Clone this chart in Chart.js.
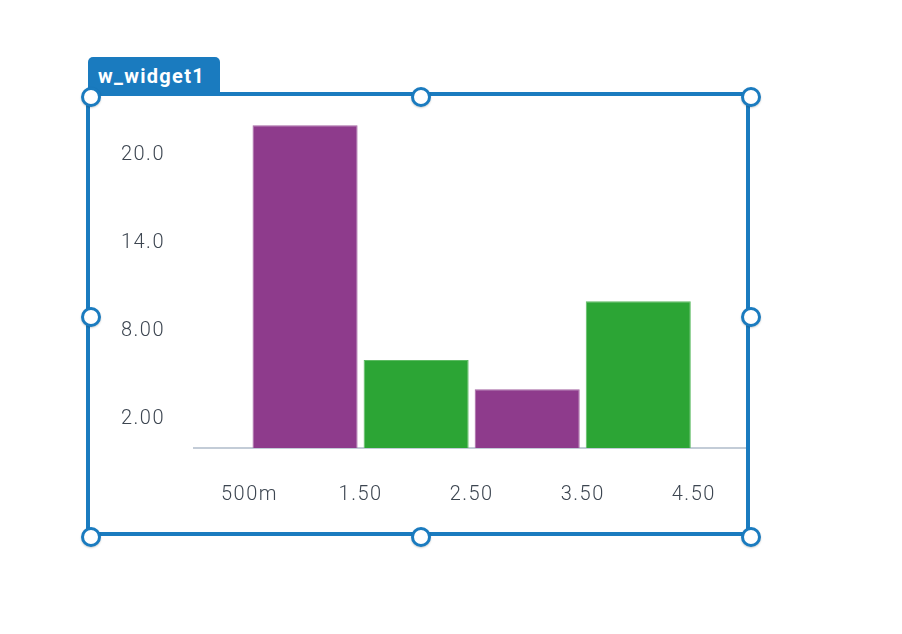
<!DOCTYPE html>
<html>
<head>
<meta charset="utf-8">
<script src="https://cdn.jsdelivr.net/npm/chart.js@4.4.1/dist/chart.umd.min.js"></script>
<style>
    html, body { margin: 0; padding: 0; background: #fff; }
    body { width: 902px; height: 634px; position: relative; overflow: hidden; font-family: Roboto, "Noto Sans", sans-serif; }
    #wrap { position: absolute; left: 0; top: 0; width: 902px; height: 634px; }
    .frame { position: absolute; left: 86px; top: 92px; width: 656px; height: 436px; border: 4px solid #1a7bbf; box-sizing: content-box; }
    .tab { position: absolute; left: 88px; top: 57px; width: 132px; height: 37px; background: #1a7bbf; border-radius: 5px 5px 0 0;
           color: #fff; font-weight: bold; font-size: 20px; letter-spacing: 1.3px; line-height: 39px; padding-left: 10px; box-sizing: border-box; }
    .handle { position: absolute; width: 14px; height: 14px; border: 3.5px solid #1a7bbf; border-radius: 50%; background: #fff;
              transform: translate(-50%, -50%); box-shadow: 0 1px 2px rgba(0,0,0,0.2); }
</style>
</head>
<body>
<div id="wrap"><canvas id="myChart" width="902" height="634"></canvas></div>
<div class="frame"></div>
<div class="tab">w_widget1</div>
<div class="handle" style="left:91px;top:97px"></div>
<div class="handle" style="left:421px;top:97px"></div>
<div class="handle" style="left:751px;top:97px"></div>
<div class="handle" style="left:91px;top:317px"></div>
<div class="handle" style="left:751px;top:317px"></div>
<div class="handle" style="left:91px;top:537px"></div>
<div class="handle" style="left:421px;top:537px"></div>
<div class="handle" style="left:751px;top:537px"></div>
<script>
// --- DATI ---
const binCenters = [1, 2, 3, 4];
const binValues = [22, 6, 4, 10];
const xTickValues = [0.5, 1.5, 2.5, 3.5, 4.5];
const xTickLabels = ["500m", "1.50", "2.50", "3.50", "4.50"];
const yTickValues = [2, 8, 14, 20];
const yTickLabels = ["2.00", "8.00", "14.0", "20.0"];

const barColors = ['#8e3b8c', '#2ca535', '#8e3b8c', '#2ca535'];
const barBorders = ['#a566a3', '#5cbb62', '#a566a3', '#5cbb62'];

const tickFont = { family: 'Roboto', size: 20, weight: '300' };
const tickColor = '#3d4651';

document.addEventListener('DOMContentLoaded', () => {
    const ctx = document.getElementById('myChart').getContext('2d');

    new Chart(ctx, {
        type: 'bar',
        data: {
            datasets: [{
                data: binCenters.map((c, i) => ({ x: c, y: binValues[i] })),
                backgroundColor: barColors,
                borderColor: barBorders,
                borderWidth: 1,
                categoryPercentage: 1,
                barPercentage: 0.946
            }]
        },
        options: {
            responsive: false,
            animation: false,
            events: [],
            layout: { padding: { left: 0, right: 156, top: 118, bottom: 0 } },
            plugins: { legend: { display: false }, tooltip: { enabled: false } },
            scales: {
                x: {
                    type: 'linear',
                    min: 0,
                    max: 4.97,
                    offset: false,
                    grid: { display: false, drawTicks: false },
                    border: { display: true, color: '#c3ccd7', width: 2 },
                    afterBuildTicks: scale => { scale.ticks = xTickValues.map(v => ({ value: v })); },
                    afterFit: scale => { scale.height = 186; },
                    ticks: {
                        padding: 35,
                        maxRotation: 0,
                        autoSkip: false,
                        font: tickFont,
                        color: tickColor,
                        callback: (value, index) => xTickLabels[index]
                    }
                },
                y: {
                    min: 0,
                    max: 22.5,
                    grid: { display: false, drawTicks: false },
                    border: { display: false },
                    afterBuildTicks: scale => { scale.ticks = yTickValues.map(v => ({ value: v })); },
                    afterFit: scale => { scale.width = 194; },
                    ticks: {
                        padding: 29,
                        autoSkip: false,
                        font: tickFont,
                        color: tickColor,
                        callback: (value, index) => yTickLabels[index]
                    }
                }
            }
        },
        plugins: [{
            // spaziatura lettere come nel riferimento
            id: 'spacing',
            beforeDraw: chart => { chart.ctx.letterSpacing = '1.5px'; }
        }]
    });
});
</script>
</body>
</html>
